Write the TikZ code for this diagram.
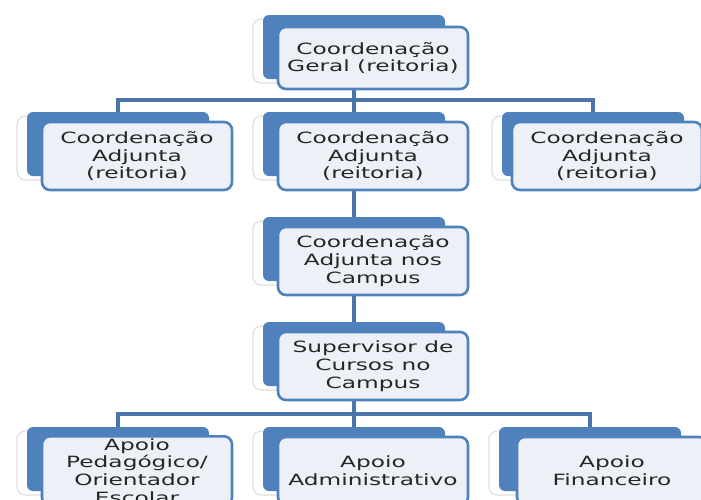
\documentclass[tikz,border=0pt]{standalone}
\usepackage{fontspec}
\setmainfont{DejaVu Sans}[FakeStretch=1.5]
\usepackage{tikz}
\usetikzlibrary{positioning, backgrounds}
\definecolor{accentBlue}{HTML}{4F81BD}
\definecolor{lineBlue}{HTML}{4A74AA}
\definecolor{paleBlue}{HTML}{EDF1F7}
\definecolor{haloGray}{HTML}{E0E0E0}
\definecolor{textGray}{HTML}{262626}

\begin{document}
\begin{tikzpicture}[
  x=1pt, y=-1pt,
  font=\fontsize{15.5}{17.8}\selectfont,
  haloBox/.style={fill=white, draw=haloGray, line width=1.2pt, rounded corners=8pt,
    minimum width=182pt, minimum height=64pt, inner sep=0pt},
  backBox/.style={fill=accentBlue, rounded corners=6pt,
    minimum width=182pt, minimum height=64pt, inner sep=0pt},
  cardBox/.style={draw=accentBlue, line width=2.6pt, fill=paleBlue, rounded corners=8pt,
    minimum width=190pt, minimum height=68pt, align=center, text=textGray, inner sep=2pt},
  link/.style={draw=lineBlue, line width=4pt}
]

\useasboundingbox (0,0) rectangle (701,499);

% nivel 1
\node[haloBox] at (344,51) {};
\node[backBox] (gen) at (354,47) {};
\node[cardBox, minimum height=62pt] (genCard) at ([shift={(19,11)}]gen)
{Coordenação\\Geral (reitoria)};

% nivel 2
\node[haloBox] at (108,148) {};
\node[backBox] (adjA) at (118,144) {};
\node[cardBox] (adjACard) at ([shift={(19,12)}]adjA)
{Coordenação\\Adjunta\\(reitoria)};

\node[haloBox] at (344,148) {};
\node[backBox] (adjB) at (354,144) {};
\node[cardBox] (adjBCard) at ([shift={(19,12)}]adjB)
{Coordenação\\Adjunta\\(reitoria)};

\node[haloBox] at (583,148) {};
\node[backBox] (adjC) at (593,144) {};
\node[cardBox] (adjCCard) at ([shift={(14,12)}]adjC)
{Coordenação\\Adjunta\\(reitoria)};

% campus
\node[haloBox] at (344,253) {};
\node[backBox] (campus) at (354,249) {};
\node[cardBox] (campusCard) at ([shift={(19,12)}]campus)
{Coordenação\\Adjunta nos\\Campus};

\node[haloBox] at (344,358) {};
\node[backBox] (super) at (354,354) {};
\node[cardBox] (superCard) at ([shift={(19,12)}]super)
{Supervisor de\\Cursos no\\Campus};

% apoio
\node[haloBox] at (108,463) {};
\node[backBox] (apA) at (118,459) {};
\node[cardBox] (apACard) at ([shift={(19,12)}]apA)
{Apoio\\Pedagógico/\\Orientador\\Escolar};

\node[haloBox] at (344,463) {};
\node[backBox] (apB) at (354,459) {};
\node[cardBox] (apBCard) at ([shift={(19,12)}]apB)
{Apoio\\Administrativo};

\node[haloBox] at (580,463) {};
\node[backBox] (apC) at (590,459) {};
\node[cardBox] (apCCard) at ([shift={(22,12)}]apC)
{Apoio\\Financeiro};

% ligacoes
\begin{scope}[on background layer]
\coordinate (topBus) at (354,100);
\coordinate (lowBus) at (354,414);
\draw[link] (gen) -- (topBus);
\draw[link] (adjA.north) |- (topBus) -| (adjC.north);
\draw[link] (topBus) -- (adjB);
\draw[link] (adjB) -- (campus);
\draw[link] (campus) -- (super);
\draw[link] (super) -- (lowBus);
\draw[link] (apA.north) |- (lowBus) -| (apC.north);
\draw[link] (lowBus) -- (apB);
\end{scope}

\end{tikzpicture}
\end{document}
